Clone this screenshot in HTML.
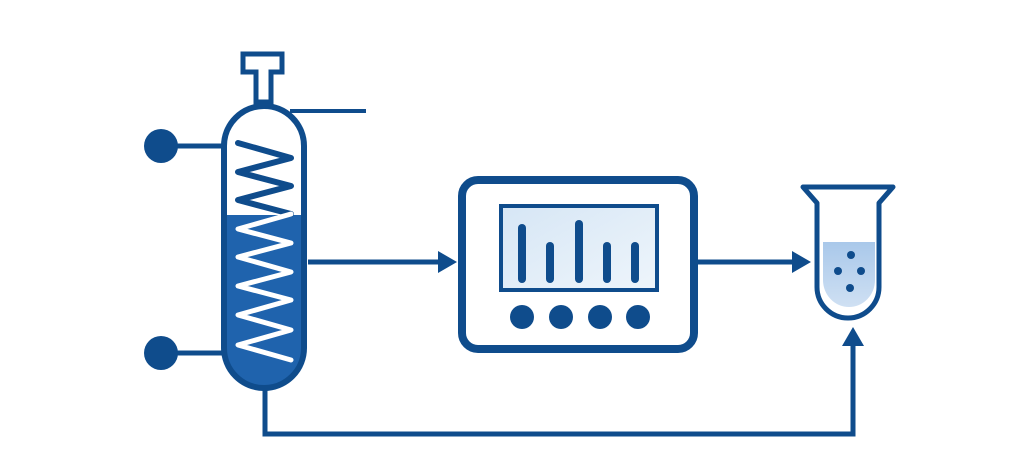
<!DOCTYPE html>
<html><head><style>html,body{margin:0;padding:0;background:#fff}svg{display:block}</style></head>
<body>
<svg width="1024" height="474" viewBox="0 0 1024 474" xmlns="http://www.w3.org/2000/svg">
<defs>
<linearGradient id="scr" x1="0" y1="0" x2="1" y2="1"><stop offset="0" stop-color="#d6e6f5"/><stop offset="1" stop-color="#eef5fb"/></linearGradient>
<linearGradient id="liq" x1="0" y1="0" x2="0" y2="1"><stop offset="0" stop-color="#a9c8ea"/><stop offset="1" stop-color="#cfe0f3"/></linearGradient>
<clipPath id="col"><path d="M224,146 A40,40 0 0 1 304,146 L304,348 A40,40 0 0 1 224,348 Z"/></clipPath>
</defs>
<g stroke="#0f4c8c" fill="none" stroke-linecap="butt">
<path d="M243,54 H282 V72 H271 V102 H256 V72 H243 Z" stroke-width="5" fill="#fff"/>
<line x1="290" y1="111" x2="366" y2="111" stroke-width="4"/>
<line x1="170" y1="146" x2="222" y2="146" stroke-width="5"/>
<line x1="170" y1="353" x2="222" y2="353" stroke-width="5"/>
<polyline points="265,390 265,434 853,434 853,340" stroke-width="5"/>
<line x1="308" y1="262" x2="442" y2="262" stroke-width="5"/>
<line x1="697" y1="262" x2="795" y2="262" stroke-width="5"/>
</g>
<circle cx="161" cy="146" r="17" fill="#0f4c8c"/>
<circle cx="161" cy="353" r="17" fill="#0f4c8c"/>
<polygon points="457,262 438,251 438,273" fill="#0f4c8c"/>
<polygon points="811,262 792,251 792,273" fill="#0f4c8c"/>
<polygon points="853,327 842,346 864,346" fill="#0f4c8c"/>
<path d="M224,146 A40,40 0 0 1 304,146 L304,348 A40,40 0 0 1 224,348 Z" fill="#fff"/>
<rect x="220" y="215" width="90" height="190" fill="#1f63ad" clip-path="url(#col)"/>
<g clip-path="url(#col)">
<polyline points="238,143 291,158 238,172 291,186 238,200 291,214" stroke="#0f4c8c" stroke-width="6" fill="none" stroke-linecap="round" stroke-linejoin="round"/>
<polyline points="291,214 238,229 291,243 238,257 291,272 238,286 291,300 238,315 291,330 238,345 291,360" stroke="#fff" stroke-width="5" fill="none" stroke-linecap="round" stroke-linejoin="round"/>
</g>
<path d="M224,146 A40,40 0 0 1 304,146 L304,348 A40,40 0 0 1 224,348 Z" fill="none" stroke="#0f4c8c" stroke-width="6"/>
<rect x="462" y="180" width="232" height="169" rx="16" fill="#fff" stroke="#0f4c8c" stroke-width="8"/>
<rect x="501" y="206" width="156" height="84" fill="url(#scr)" stroke="#0f4c8c" stroke-width="4"/>
<g stroke="#0f4c8c" stroke-width="8" stroke-linecap="round">
<line x1="522" y1="228" x2="522" y2="279"/>
<line x1="550" y1="246" x2="550" y2="279"/>
<line x1="579" y1="224" x2="579" y2="279"/>
<line x1="607" y1="246" x2="607" y2="279"/>
<line x1="635" y1="246" x2="635" y2="279"/>
</g>
<g fill="#0f4c8c"><circle cx="522" cy="317" r="12"/><circle cx="561" cy="317" r="12"/><circle cx="600" cy="317" r="12"/><circle cx="638" cy="317" r="12"/></g>
<path d="M823,242 H875 V280 A26,27 0 0 1 823,280 Z" fill="url(#liq)"/>
<path d="M803,187 H893 L879,203 V287 A31,31 0 0 1 817,287 V203 Z" fill="none" stroke="#0f4c8c" stroke-width="5" stroke-linejoin="round"/>
<g fill="#0f4c8c"><circle cx="851" cy="255" r="4"/><circle cx="838" cy="271" r="4"/><circle cx="861" cy="271" r="4"/><circle cx="850" cy="288" r="4"/></g>
</svg>
</body></html>
